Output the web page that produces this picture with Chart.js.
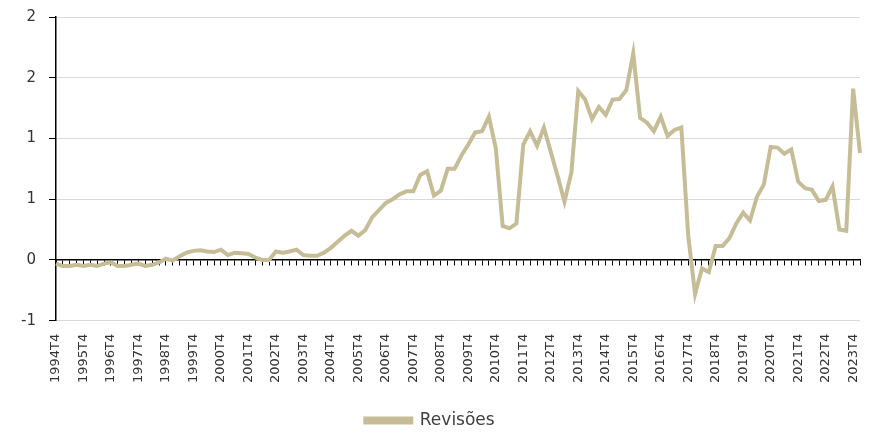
<!DOCTYPE html>
<html><head><meta charset="utf-8">
<script src="https://cdn.jsdelivr.net/npm/chart.js@4"></script>
<style>html,body{margin:0;padding:0;background:#fff}#wrap{width:872px;height:433px}</style>
</head><body><div id="wrap"><canvas id="c" width="872" height="433"></canvas></div>
<script>
// Quarterly categories 1994T4 .. 2024T1
const firstYear = 1994, firstQuarter = 4, nQuarters = 118;
const categories = [];
for (let k = 0; k < nQuarters; k++) {
  const q = (firstQuarter - 1 + k) % 4 + 1;
  const y = firstYear + Math.floor((firstQuarter - 1 + k) / 4);
  categories.push(y + 'T' + q);
}
const seriesName = 'Revisões';
const revisoes = [
  -0.03,-0.05,-0.05,-0.04,-0.05,-0.04,-0.05,-0.03,-0.02,-0.05,
  -0.05,-0.04,-0.03,-0.05,-0.04,-0.02,0.01,-0.005,0.03,0.06,
  0.075,0.08,0.07,0.065,0.085,0.04,0.06,0.055,0.05,0.02,
  0.0,0.0,0.07,0.06,0.07,0.085,0.04,0.035,0.035,0.06,
  0.1,0.15,0.2,0.24,0.2,0.245,0.35,0.41,0.47,0.5,
  0.54,0.565,0.565,0.7,0.73,0.53,0.57,0.75,0.75,0.86,
  0.95,1.05,1.06,1.18,0.92,0.28,0.26,0.3,0.95,1.06,
  0.94,1.09,0.89,0.69,0.48,0.72,1.39,1.32,1.16,1.26,
  1.195,1.32,1.325,1.4,1.70,1.17,1.13,1.06,1.18,1.02,
  1.07,1.09,0.2,-0.28,-0.07,-0.1,0.115,0.115,0.18,0.3,
  0.39,0.325,0.52,0.62,0.93,0.925,0.875,0.91,0.645,0.59,
  0.577,0.485,0.495,0.605,0.25,0.24,1.41,0.88
];
const yMin = -0.5, yMax = 2, yStep = 0.5;

const lineColor = '#C6BD97';
const font = 'DejaVu Sans';

new Chart(document.getElementById('c').getContext('2d'), {
  type: 'line',
  data: {
    labels: categories,
    datasets: [{
      label: seriesName, data: revisoes,
      borderColor: lineColor, backgroundColor: lineColor,
      borderWidth: 4, pointRadius: 0, tension: 0,
      xAxisID: 'x', yAxisID: 'y'
    }]
  },
  options: {
    responsive: false, animation: false,
    layout: { padding: { top: 17, right: 12, left: 0, bottom: 4 } },
    plugins: {
      tooltip: { enabled: false },
      legend: {
        position: 'bottom', maxHeight: 19,
        labels: { boxWidth: 46, boxHeight: 4, color: '#404040', font: { family: font, size: 17 }, padding: 2 }
      }
    },
    scales: {
      x: {
        type: 'category', position: 'bottom',
        grid: { display: false, drawTicks: false },
        border: { display: false },
        afterFit: s => { s.paddingLeft = 0; s.paddingRight = 0; s.height += 14; },
        ticks: {
          autoSkip: false, maxRotation: 90, minRotation: 90, padding: 13,
          color: '#333', font: { family: font, size: 13 },
          callback: function (v) { const l = this.getLabelForValue(v); return l.endsWith('T4') ? l : ''; }
        }
      },
      x2: {
        type: 'category', position: { y: 0 },
        grid: { drawOnChartArea: false, tickLength: 5, color: '#000' },
        border: { color: '#000', width: 1.5 },
        ticks: { display: false }
      },
      y: {
        min: yMin, max: yMax,
        afterFit: s => { s.width = 56; s.paddingTop = 0; s.paddingBottom = 0; },
        grid: { color: '#D9D9D9', tickColor: '#000', tickLength: 7 },
        border: { color: '#000', width: 1.5 },
        ticks: {
          stepSize: yStep, padding: 13, color: '#333', font: { family: font, size: 15 },
          callback: v => String(Math.sign(v) * Math.round(Math.abs(v)) || 0)
        }
      }
    }
  }
});
</script></body></html>
